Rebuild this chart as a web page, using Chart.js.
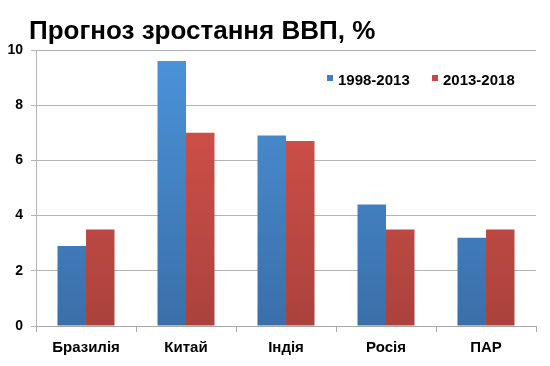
<!DOCTYPE html>
<html>
<head>
<meta charset="utf-8">
<script src="https://cdn.jsdelivr.net/npm/chart.js@4/dist/chart.umd.min.js"></script>
<style>
  html,body{margin:0;padding:0;background:#fff;}
  #wrap{position:relative;width:550px;height:366px;}
  #title{position:absolute;left:29px;top:15px;margin:0;font:bold 26px "Liberation Sans",Arial,sans-serif;line-height:30px;color:#000;white-space:nowrap;}
</style>
</head>
<body>
<div id="wrap">
  <h1 id="title">Прогноз зростання ВВП, %</h1>
  <canvas id="chart" width="550" height="366"></canvas>
</div>
<script>
const categories = ['Бразилія', 'Китай', 'Індія', 'Росія', 'ПАР'];
const seriesNames = ['1998-2013', '2013-2018'];
const growth1998 = [2.9, 9.6, 6.9, 4.4, 3.2];
const growth2013 = [3.5, 7.0, 6.7, 3.5, 3.5];
const yTicks = [0, 2, 4, 6, 8, 10];

const FONT = '"Liberation Sans", Arial, sans-serif';

function grad(ctx, top, bottom){
  const c = ctx.chart, a = c.chartArea;
  if(!a) return top;
  const g = c.ctx.createLinearGradient(0, a.top, 0, a.bottom);
  g.addColorStop(0, top); g.addColorStop(1, bottom);
  return g;
}

// legend drawn inside the plot, upper right
const innerLegend = {
  id: 'innerLegend',
  afterDraw(chart){
    const c = chart.ctx;
    const items = [
      { x: 327, text: seriesNames[0], color: '#3f7fc4' },
      { x: 432, text: seriesNames[1], color: '#c44a43' }
    ];
    c.save();
    c.font = 'bold 15px ' + FONT;
    c.textBaseline = 'middle';
    items.forEach(it => {
      c.fillStyle = it.color;
      c.fillRect(it.x, 75, 6, 6);
      c.fillStyle = '#000';
      c.fillText(it.text, it.x + 11, 81);
    });
    c.restore();
  }
};

new Chart(document.getElementById('chart'), {
  type: 'bar',
  data: {
    labels: categories,
    datasets: [
      { label: seriesNames[0], data: growth1998, backgroundColor: ctx => grad(ctx, '#4c93da', '#3a6fa9') },
      { label: seriesNames[1], data: growth2013, backgroundColor: ctx => grad(ctx, '#db544c', '#ab423d') }
    ]
  },
  options: {
    responsive: false,
    animation: false,
    layout: { padding: { top: 50, right: 14, bottom: 0, left: 0 } },
    datasets: { bar: { categoryPercentage: 0.57, barPercentage: 1.0 } },
    plugins: { legend: { display: false }, tooltip: { enabled: false } },
    scales: {
      x: {
        afterFit: s => { s.height = 40; },
        grid: { drawOnChartArea: false, offset: true, tickLength: 6, color: '#a8a8a8' },
        border: { color: '#a8a8a8' },
        ticks: { color: '#000', padding: 7, font: { family: FONT, size: 15, weight: 'bold' } }
      },
      y: {
        min: 0, max: 10,
        afterFit: s => { s.width = 36; },
        afterBuildTicks: s => { s.ticks = yTicks.map(v => ({ value: v })); },
        grid: { color: '#b4b4b4', tickLength: 5 },
        border: { color: '#b4b4b4' },
        ticks: { color: '#000', padding: 8, font: { family: FONT, size: 14, weight: 'bold' } }
      }
    }
  },
  plugins: [innerLegend]
});
</script>
</body>
</html>
